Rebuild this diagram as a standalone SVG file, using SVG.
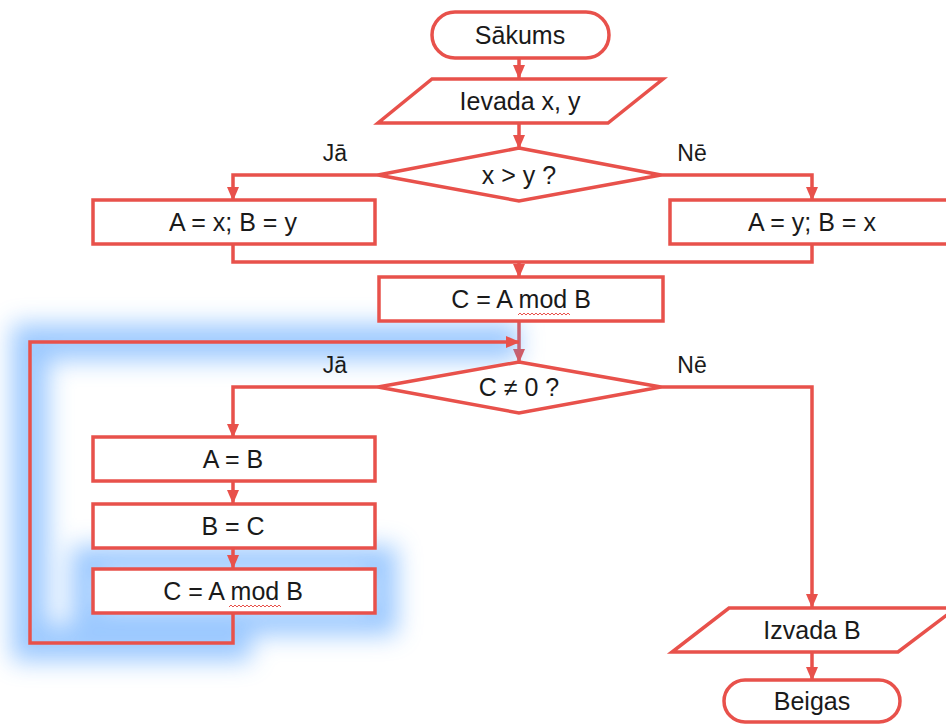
<svg xmlns="http://www.w3.org/2000/svg" width="946" height="724" viewBox="0 0 946 724">
  <style>
    .shape { fill: #ffffff; stroke: #e8514b; stroke-width: 3.5; }
    .line { fill: none; stroke: #e8514b; stroke-width: 3.5; }
    .label { font-family: "Liberation Sans", Arial, sans-serif; font-size: 25px; fill: #1a1a1a; text-anchor: middle; }
    .branch { font-family: "Liberation Sans", Arial, sans-serif; font-size: 23px; fill: #1a1a1a; text-anchor: middle; }
    .squiggle { fill: none; stroke: #e8514b; stroke-width: 1; }
  </style>
  <defs>
    <marker id="arrow" markerUnits="userSpaceOnUse" markerWidth="14" markerHeight="14" viewBox="0 0 14 14" refX="13" refY="7" orient="auto">
      <path d="M0,1 L14,7 L0,13 Z" fill="#e8514b"/>
    </marker>
    <filter id="glow" x="-20%" y="-20%" width="140%" height="140%">
      <feGaussianBlur stdDeviation="12"/>
    </filter>
  </defs>

  <rect width="946" height="724" fill="#ffffff"/>

  <!-- main connectors -->
  <g id="connectors">
    <path class="line" d="M519,58 V78" marker-end="url(#arrow)"/>
    <path class="line" d="M519,123 V148" marker-end="url(#arrow)"/>
    <path class="line" d="M378,175 H233 V200" marker-end="url(#arrow)"/>
    <path class="line" d="M661,175 H812 V200" marker-end="url(#arrow)"/>
    <path class="line" d="M233,244 V262 H812 V244"/>
    <path class="line" d="M519,262 V277" marker-end="url(#arrow)"/>
    <path class="line" d="M519,321 V362" marker-end="url(#arrow)"/>
    <path class="line" d="M378,387 H233 V437" marker-end="url(#arrow)"/>
    <path class="line" d="M233,481 V503" marker-end="url(#arrow)"/>
    <path class="line" d="M661,387 H812 V607" marker-end="url(#arrow)"/>
    <path class="line" d="M812,652 V680" marker-end="url(#arrow)"/>
  </g>

  <!-- highlight behind the loop back-edge and the last loop step -->
  <g id="loop-highlight" filter="url(#glow)" opacity="0.55">
    <path d="M233,613 V643 H30 V342 H519" fill="none" stroke="#4b9dff" stroke-width="36"/>
    <rect x="86" y="561" width="296" height="59" fill="none" stroke="#4b9dff" stroke-width="30"/>
  </g>

  <g id="loop-connector">
    <path class="line" d="M233,548 V568" marker-end="url(#arrow)"/>
    <path class="line" d="M233,613 V643 H30 V342 H519" marker-end="url(#arrow)"/>
  </g>

  <g id="start">
    <rect class="shape" x="432" y="12" width="177" height="46" rx="23"/>
    <text class="label" x="520" y="44">Sākums</text>
  </g>

  <g id="input">
    <polygon class="shape" points="432,79 663,79 608,123 378,123"/>
    <text class="label" x="520" y="110">Ievada x, y</text>
  </g>

  <g id="cond1">
    <polygon class="shape" points="519,148 661,175 519,201 378,175"/>
    <text class="label" x="519" y="184">x &gt; y ?</text>
    <text class="branch" x="335" y="161">Jā</text>
    <text class="branch" x="692" y="161">Nē</text>
  </g>

  <g id="assign-xy">
    <rect class="shape" x="93" y="200" width="282" height="44"/>
    <text class="label" x="233" y="231">A = x; B = y</text>
  </g>

  <g id="assign-yx">
    <rect class="shape" x="670" y="200" width="282" height="44"/>
    <text class="label" x="812" y="231">A = y; B = x</text>
  </g>

  <g id="mod1">
    <rect class="shape" x="379" y="277" width="284" height="44"/>
    <text class="label" x="521" y="308">C = A mod B</text>
    <path class="squiggle" d="M518,315 l2,-2 l2,2 l2,-2 l2,2 l2,-2 l2,2 l2,-2 l2,2 l2,-2 l2,2 l2,-2 l2,2 l2,-2 l2,2 l2,-2 l2,2 l2,-2 l2,2 l2,-2 l2,2 l2,-2 l2,2 l2,-2 l2,2 l2,-2 l2,2"/>
  </g>

  <g id="cond2">
    <polygon class="shape" points="519,362 661,387 519,413 378,387"/>
    <text class="label" x="519" y="396">C ≠ 0 ?</text>
    <text class="branch" x="335" y="373">Jā</text>
    <text class="branch" x="692" y="373">Nē</text>
  </g>

  <g id="assign-a">
    <rect class="shape" x="93" y="437" width="282" height="44"/>
    <text class="label" x="233" y="468">A = B</text>
  </g>

  <g id="assign-b">
    <rect class="shape" x="93" y="504" width="282" height="44"/>
    <text class="label" x="233" y="535">B = C</text>
  </g>

  <g id="mod2">
    <rect class="shape" x="93" y="569" width="282" height="44"/>
    <text class="label" x="233" y="600">C = A mod B</text>
    <path class="squiggle" d="M229,607 l2,-2 l2,2 l2,-2 l2,2 l2,-2 l2,2 l2,-2 l2,2 l2,-2 l2,2 l2,-2 l2,2 l2,-2 l2,2 l2,-2 l2,2 l2,-2 l2,2 l2,-2 l2,2 l2,-2 l2,2 l2,-2 l2,2 l2,-2 l2,2"/>
  </g>

  <g id="output">
    <polygon class="shape" points="729,608 956,608 898,652 672,652"/>
    <text class="label" x="812" y="639">Izvada B</text>
  </g>

  <g id="end">
    <rect class="shape" x="724" y="680" width="176" height="42" rx="21"/>
    <text class="label" x="812" y="710">Beigas</text>
  </g>
</svg>
